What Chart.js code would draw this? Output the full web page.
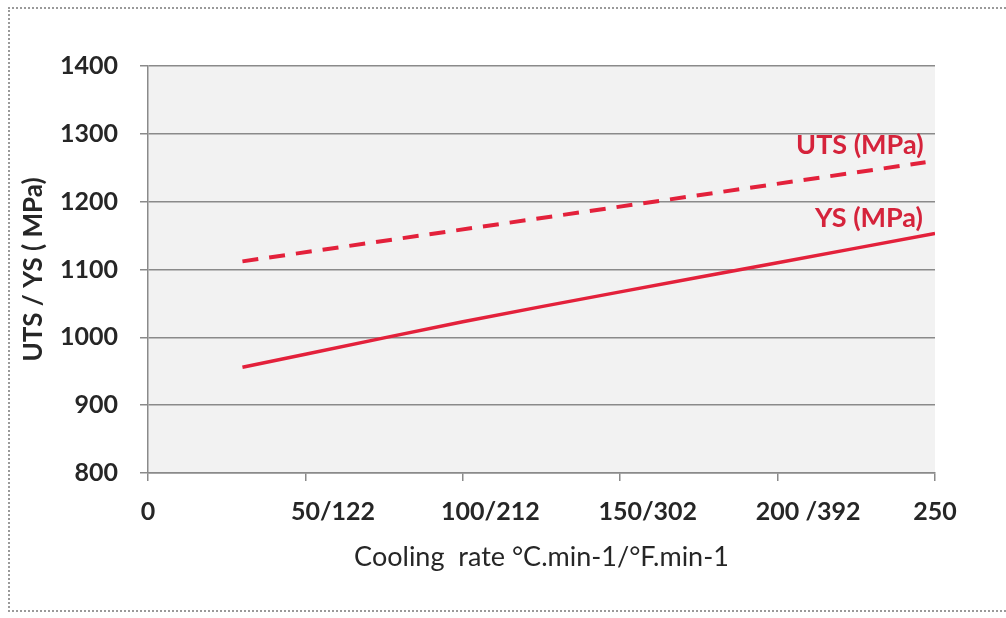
<!DOCTYPE html>
<html>
<head>
<meta charset="utf-8">
<script src="https://cdn.jsdelivr.net/npm/chart.js@4"></script>
<style>
  body {margin: 0; background: #fff; overflow: hidden;}
  #wrap {position: relative; width: 1006px; height: 618px;}
  #frame {position: absolute; left: 8px; top: 7px; width: 1010px; height: 605px; border: 2px dotted #9a9a9a; box-sizing: border-box; pointer-events: none;}
</style>
</head>
<body>
<div id="wrap">
  <canvas id="strengthChart" width="1006" height="618"></canvas>
  <div id="frame"></div>
</div>
<script>
//data
const seriesLabels = ['UTS (MPa)', 'YS (MPa)'];
const utsRate = [30, 247]; //cooling rate °C/min
const utsValues = [1112, 1258];
const ysRate = [30, 50, 100, 150, 200, 250];
const ysValues = [956, 975, 1023, 1067, 1110, 1153];
const xTickLabels = ['0', '50/122', '100/212', '150/302', '200 /392', '250']; //one per 50 °C
const yTicks = [800, 900, 1000, 1100, 1200, 1300, 1400];

const red = '#e3213b';
const font = "Lato, 'Open Sans', sans-serif";

//grey plot background
const plotBackground = {
    id: 'plotBackground',
    beforeDraw(chart) {
        const {ctx, chartArea: a} = chart;
        ctx.save();
        ctx.fillStyle = '#f2f2f2';
        ctx.fillRect(a.left, a.top, a.right - a.left, a.bottom - a.top);
        ctx.restore();
    }
};

//x labels: the °C number sits centred on its tick, the °F part runs on to the right
const xLabels = {
    id: 'xLabels',
    afterDraw(chart) {
        const ctx = chart.ctx;
        const scale = chart.scales.x;
        ctx.save();
        ctx.font = 'bold 25px ' + font;
        ctx.fillStyle = '#262626';
        ctx.textAlign = 'left';
        ctx.textBaseline = 'middle';
        scale.ticks.forEach((t, i) => {
            const text = xTickLabels[i];
            const celsius = text.split('/')[0].trim();
            const x = scale.getPixelForValue(t.value) - ctx.measureText(celsius).width / 2;
            ctx.fillText(text, x, scale.top + 39);
        });
        ctx.restore();
    }
};

//series names written next to the end of each line
const endLabels = {
    id: 'endLabels',
    afterDatasetsDraw(chart) {
        const ctx = chart.ctx;
        const offsets = [{dx: -2, dy: -17}, {dx: -12, dy: -15}];
        ctx.save();
        ctx.font = 'bold 27px ' + font;
        ctx.fillStyle = '#d5233b';
        ctx.textAlign = 'right';
        ctx.textBaseline = 'middle';
        chart.data.datasets.forEach((ds, i) => {
            const pts = chart.getDatasetMeta(i).data;
            const last = pts[pts.length - 1];
            ctx.fillText(ds.label, last.x + offsets[i].dx, last.y + offsets[i].dy);
        });
        ctx.restore();
    }
};

new Chart(document.getElementById('strengthChart'), {
    type: 'line',
    data: {
        datasets: [
            {label: seriesLabels[0], data: utsRate.map((x, i) => ({x: x, y: utsValues[i]})),
             borderColor: red, borderWidth: 4, borderDash: [16, 11], pointRadius: 0, fill: false},
            {label: seriesLabels[1], data: ysRate.map((x, i) => ({x: x, y: ysValues[i]})),
             borderColor: red, borderWidth: 3.5, pointRadius: 0, tension: 0.3, fill: false}
        ]
    },
    options: {
        responsive: false,
        animation: false,
        layout: {padding: {left: 0, top: 66, right: 71, bottom: 0}},
        plugins: {legend: {display: false}, tooltip: {enabled: false}},
        scales: {
            x: {
                type: 'linear',
                min: 0, max: 250,
                afterFit(scale) { scale.height = 145; },
                afterBuildTicks(scale) { scale.ticks = xTickLabels.map((t, i) => ({value: i * 50})); },
                grid: {drawOnChartArea: false, color: '#8a8a8a', tickLength: 8, lineWidth: 1.5},
                border: {color: '#8a8a8a', width: 1.5},
                ticks: {display: false}, //drawn by xLabels plugin
                title: {
                    display: true, text: 'Cooling  rate °C.min-1/°F.min-1',
                    color: '#262626', font: {family: font, size: 27},
                    padding: {top: 0, bottom: 45}
                }
            },
            y: {
                min: 800, max: 1400,
                afterFit(scale) { scale.width = 148; },
                afterBuildTicks(scale) { scale.ticks = yTicks.map(v => ({value: v})); },
                grid: {color: '#8a8a8a', tickLength: 8, lineWidth: 1.5},
                border: {color: '#8a8a8a', width: 1.5},
                ticks: {
                    color: '#262626', padding: 22,
                    font: {family: font, size: 25, weight: 'bold'},
                    callback: (v) => String(v)
                },
                title: {
                    display: true, text: 'UTS / YS ( MPa)',
                    color: '#262626', font: {family: font, size: 26, weight: 'bold'},
                    padding: {top: 18, bottom: 0}
                }
            }
        }
    },
    plugins: [plotBackground, xLabels, endLabels]
});
</script>
</body>
</html>
